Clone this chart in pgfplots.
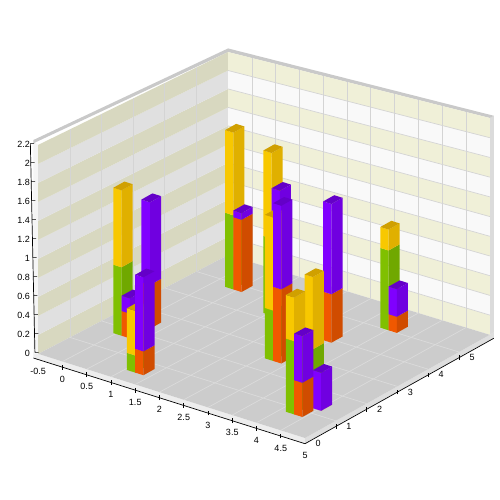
\documentclass[border=0pt]{standalone}
\usepackage{fontspec}
\setmainfont{Liberation Sans}
\usepackage{pgfplots}
\pgfplotsset{compat=1.18}

\definecolor{green1}{HTML}{80C000}\definecolor{green2}{HTML}{70A800}\definecolor{green3}{HTML}{609000}
\definecolor{yellow1}{HTML}{F8C800}\definecolor{yellow2}{HTML}{E0B000}\definecolor{yellow3}{HTML}{D0A000}
\definecolor{orange1}{HTML}{F05800}\definecolor{orange2}{HTML}{D04C00}\definecolor{orange3}{HTML}{B84400}
\definecolor{purple1}{HTML}{8000FF}\definecolor{purple2}{HTML}{7000E0}\definecolor{purple3}{HTML}{6400C8}
\definecolor{wallL}{HTML}{E0E0E0}\definecolor{wallLb}{HTML}{D8D8C0}
\definecolor{wallR}{HTML}{F9F9F9}\definecolor{wallRb}{HTML}{F0F0D8}
\definecolor{floorc}{HTML}{CCCCCC}

% one flat face of the scene
\newcommand\face[5]{\addplot3[fill=#1,draw=none,forget plot] coordinates {#2 #3 #4 #5} -- cycle;}
\newcommand\gline[3]{\addplot3[color=#1,line width=0.7pt,forget plot] coordinates {#2 #3};}

% x0 x1 y0 y1 z0 z1 colour
\newcommand\seg[7]{%
  \face{#71}{(#1,#3,#5)}{(#2,#3,#5)}{(#2,#3,#6)}{(#1,#3,#6)}
  \face{#72}{(#2,#3,#5)}{(#2,#4,#5)}{(#2,#4,#6)}{(#2,#3,#6)}}
% x0 x1 y0 y1 z-lower z-upper lower colour, upper colour
\newcommand\stack[8]{%
  \seg{#1}{#2}{#3}{#4}{0}{#5}{#7}
  \seg{#1}{#2}{#3}{#4}{#5}{#6}{#8}
  \face{#83}{(#1,#3,#6)}{(#2,#3,#6)}{(#2,#4,#6)}{(#1,#4,#6)}}

% wall and floor corners
\def\Ax{-0.5}\def\Ay{0}\def\Bx{-0.33}\def\By{5.895}\def\Cx{5}\def\Cy{0}\def\Dx{5}\def\Dy{6}
\def\Az{2.2}\def\Bz{2.137}\def\Dz{2.282}

% colour x1 y1 top1 x2 y2 top2 band
\newcommand\band[8]{%
  \pgfmathsetmacro\za{#8*#4/11}\pgfmathsetmacro\zb{#8*#7/11}%
  \pgfmathsetmacro\zc{(#8+1)*#7/11}\pgfmathsetmacro\zd{(#8+1)*#4/11}%
  \edef\tmp{\noexpand\face{#1}{(#2,#3,\za)}{(#5,#6,\zb)}{(#5,#6,\zc)}{(#2,#3,\zd)}}\tmp}

\begin{document}
\begin{tikzpicture}
\begin{axis}[
  name=ax, anchor=origin, at={(0,0)},
  disabledatascaling,
  x={(48.5pt,-15.3pt)}, y={(30.8pt,17.2pt)}, z={(0pt,95pt)},
  xmin=-0.6, xmax=5, ymin=0, ymax=6.13, zmin=-0.06, zmax=2.2,
  clip=false,
  axis line style={draw=none},
  major tick length=0pt, tick style={draw=none},
  xtick={-0.5,0,0.5,1,1.5,2,2.5,3,3.5,4,4.5,5},
  xticklabels={-0.5,0,0.5,1,1.5,2,2.5,3,3.5,4,4.5,5},
  ytick={0,1,2,3,4,5}, yticklabels={0,1,2,3,4,5},
  ztick={0,0.2,0.4,0.6,0.8,1,1.2,1.4,1.6,1.8,2,2.2},
  zticklabels={0,0.2,0.4,0.6,0.8,1,1.2,1.4,1.6,1.8,2,2.2},
  tick label style={font=\fontsize{9}{11}\selectfont},
  xticklabel style={anchor=center,xshift=0pt,yshift=-12pt},
  yticklabel style={anchor=center,xshift=13pt,yshift=0pt},
  zticklabel style={xshift=0pt},
]
% slab
\face{black!7}{(-0.6,0,0)}{(5,0,0)}{(5,0,-0.055)}{(-0.6,0,-0.055)}
\face{black!13}{(5,0,0)}{(5,6.13,0)}{(5,6.13,-0.055)}{(5,0,-0.055)}
% wall edges
\face{black!4}{(-0.6,0,-0.02)}{(-0.5,0,0)}{(-0.5,0,2.2)}{(-0.6,0,2.22)}
\face{black!14}{(5,6,0)}{(5,6.13,0)}{(5,6.13,2.282)}{(5,6,2.282)}
\face{black!21}{(-0.6,0,2.2)}{(-0.33,5.895,\Bz)}{(-0.33,5.895,2.175)}{(-0.6,0,2.235)}
\face{black!21}{(-0.33,5.895,\Bz)}{(5,6,\Dz)}{(5,6.13,\Dz)}{(-0.33,5.895,2.175)}
% walls
\pgfplotsinvokeforeach{0,...,10}{%
  \pgfmathparse{int(mod(#1,2))}%
  \ifnum\pgfmathresult=0 \def\cL{wallLb}\def\cR{wallRb}\else\def\cL{wallL}\def\cR{wallR}\fi
  \band{\cL}{\Ax}{\Ay}{\Az}{\Bx}{\By}{\Bz}{#1}
  \band{\cR}{\Bx}{\By}{\Bz}{\Dx}{\Dy}{\Dz}{#1}
}
% wall grid
\pgfplotsinvokeforeach{1,...,10}{%
  \pgfmathsetmacro\pa{\Bx+(\Dx-\Bx)*#1/11}\pgfmathsetmacro\pb{\By+(\Dy-\By)*#1/11}%
  \pgfmathsetmacro\pc{\Bz+(\Dz-\Bz)*#1/11}%
  \edef\tmp{\noexpand\gline{black!17}{(\pa,\pb,0)}{(\pa,\pb,\pc)}}\tmp
  \pgfmathsetmacro\zb{\Bz*#1/11}\pgfmathsetmacro\zd{\Dz*#1/11}%
  \edef\tmp{\noexpand\gline{black!17}{(\Bx,\By,\zb)}{(\Dx,\Dy,\zd)}}\tmp
}
\pgfplotsinvokeforeach{1,...,5}{%
  \pgfmathsetmacro\pa{\Ax+(\Bx-\Ax)*#1/6}\pgfmathsetmacro\pb{\Ay+(\By-\Ay)*#1/6}%
  \pgfmathsetmacro\pc{\Az+(\Bz-\Az)*#1/6}%
  \edef\tmp{\noexpand\gline{black!17}{(\pa,\pb,0)}{(\pa,\pb,\pc)}}\tmp
}
% floor
\face{floorc}{(\Ax,\Ay,0)}{(\Cx,\Cy,0)}{(\Dx,\Dy,0)}{(\Bx,\By,0)}
\pgfplotsinvokeforeach{1,...,10}{%
  \pgfmathsetmacro\pa{\Ax+(\Cx-\Ax)*#1/11}\pgfmathsetmacro\pb{\Bx+(\Dx-\Bx)*#1/11}%
  \pgfmathsetmacro\pc{\By+(\Dy-\By)*#1/11}%
  \edef\tmp{\noexpand\gline{black!14}{(\pa,0,0)}{(\pb,\pc,0)}}\tmp
}
\pgfplotsinvokeforeach{1,...,5}{%
  \pgfmathsetmacro\pa{\Ax+(\Bx-\Ax)*#1/6}\pgfmathsetmacro\pb{\By*#1/6}\pgfmathsetmacro\pc{\Dy*#1/6}%
  \edef\tmp{\noexpand\gline{black!14}{(\pa,\pb,0)}{(5,\pc,0)}}\tmp
}
% axis lines and their ticks
\addplot3[black,line width=0.7pt,forget plot] coordinates {(-0.58,0.018,0)(-0.64,-0.036,2.2)};
\addplot3[black,line width=0.7pt,forget plot] coordinates {(-0.6,0,-0.06)(5,0,-0.06)};
\addplot3[black,line width=0.7pt,forget plot] coordinates {(5,0,-0.06)(5,6.13,-0.06)};
\pgfplotsinvokeforeach{0,0.5,1,1.5,2,2.5,3,3.5,4,4.5}{%
  \addplot3[black,line width=0.6pt,forget plot] coordinates {(#1,0,-0.085)(#1,0,-0.035)};
}
\pgfplotsinvokeforeach{1,2,3,4,5}{%
  \addplot3[black,line width=0.6pt,forget plot] coordinates {(5,#1,-0.085)(5,#1,-0.035)};
}
\pgfplotsinvokeforeach{0,0.2,0.4,0.6,0.8,1,1.2,1.4,1.6,1.8,2,2.2}{%
  \pgfmathsetmacro\pa{-0.58-0.06*#1/2.2}\pgfmathsetmacro\pb{\pa+0.05}\pgfmathsetmacro\pc{0.018-0.054*#1/2.2}%
  \pgfmathsetmacro\pd{\pc+0.045}%
  \edef\tmp{\noexpand\addplot3[black,line width=0.6pt,forget plot] coordinates {(\pa,\pc,#1)(\pb,\pd,#1)};}\tmp
}
% columns, back to front
\stack{0.38}{0.55}{4.68}{5.04}{0.78}{1.65}{green}{yellow}
\stack{0.55}{0.72}{4.68}{5.04}{0.76}{0.83}{orange}{purple}
\stack{1.50}{1.67}{4.16}{4.52}{0.81}{1.71}{green}{yellow}
\stack{1.67}{1.84}{4.16}{4.52}{0.60}{1.34}{orange}{purple}
\stack{3.39}{3.56}{4.98}{5.34}{0.84}{1.06}{green}{yellow}
\stack{3.56}{3.73}{4.98}{5.34}{0.17}{0.46}{orange}{purple}
\stack{0.20}{0.38}{2.245}{2.605}{0.46}{1.33}{orange}{purple}
\stack{0.00}{0.17}{1.65}{2.01}{0.72}{1.53}{green}{yellow}
\stack{0.17}{0.34}{1.65}{2.01}{0.26}{0.42}{orange}{purple}
\stack{2.93}{3.10}{3.85}{4.21}{0.51}{1.46}{orange}{purple}
\stack{2.59}{2.76}{2.49}{2.85}{0.53}{1.51}{green}{yellow}
\stack{2.76}{2.93}{2.49}{2.85}{0.78}{1.66}{orange}{purple}
\stack{1.05}{1.22}{0.44}{0.80}{0.18}{0.65}{green}{yellow}
\stack{1.22}{1.39}{0.44}{0.80}{0.25}{1.03}{orange}{purple}
\stack{4.23}{4.40}{1.20}{1.56}{0.62}{1.38}{green}{yellow}
\stack{4.40}{4.57}{1.20}{1.56}{0}{0.40}{orange}{purple}
\stack{4.13}{4.30}{0.75}{1.11}{0.77}{1.23}{green}{yellow}
\stack{4.30}{4.47}{0.75}{1.11}{0.36}{0.85}{orange}{purple}
\end{axis}
\pgfresetboundingbox
\path[use as bounding box] (-62.5pt,-138.5pt) rectangle (437.5pt,361.5pt);
\end{tikzpicture}
\end{document}
